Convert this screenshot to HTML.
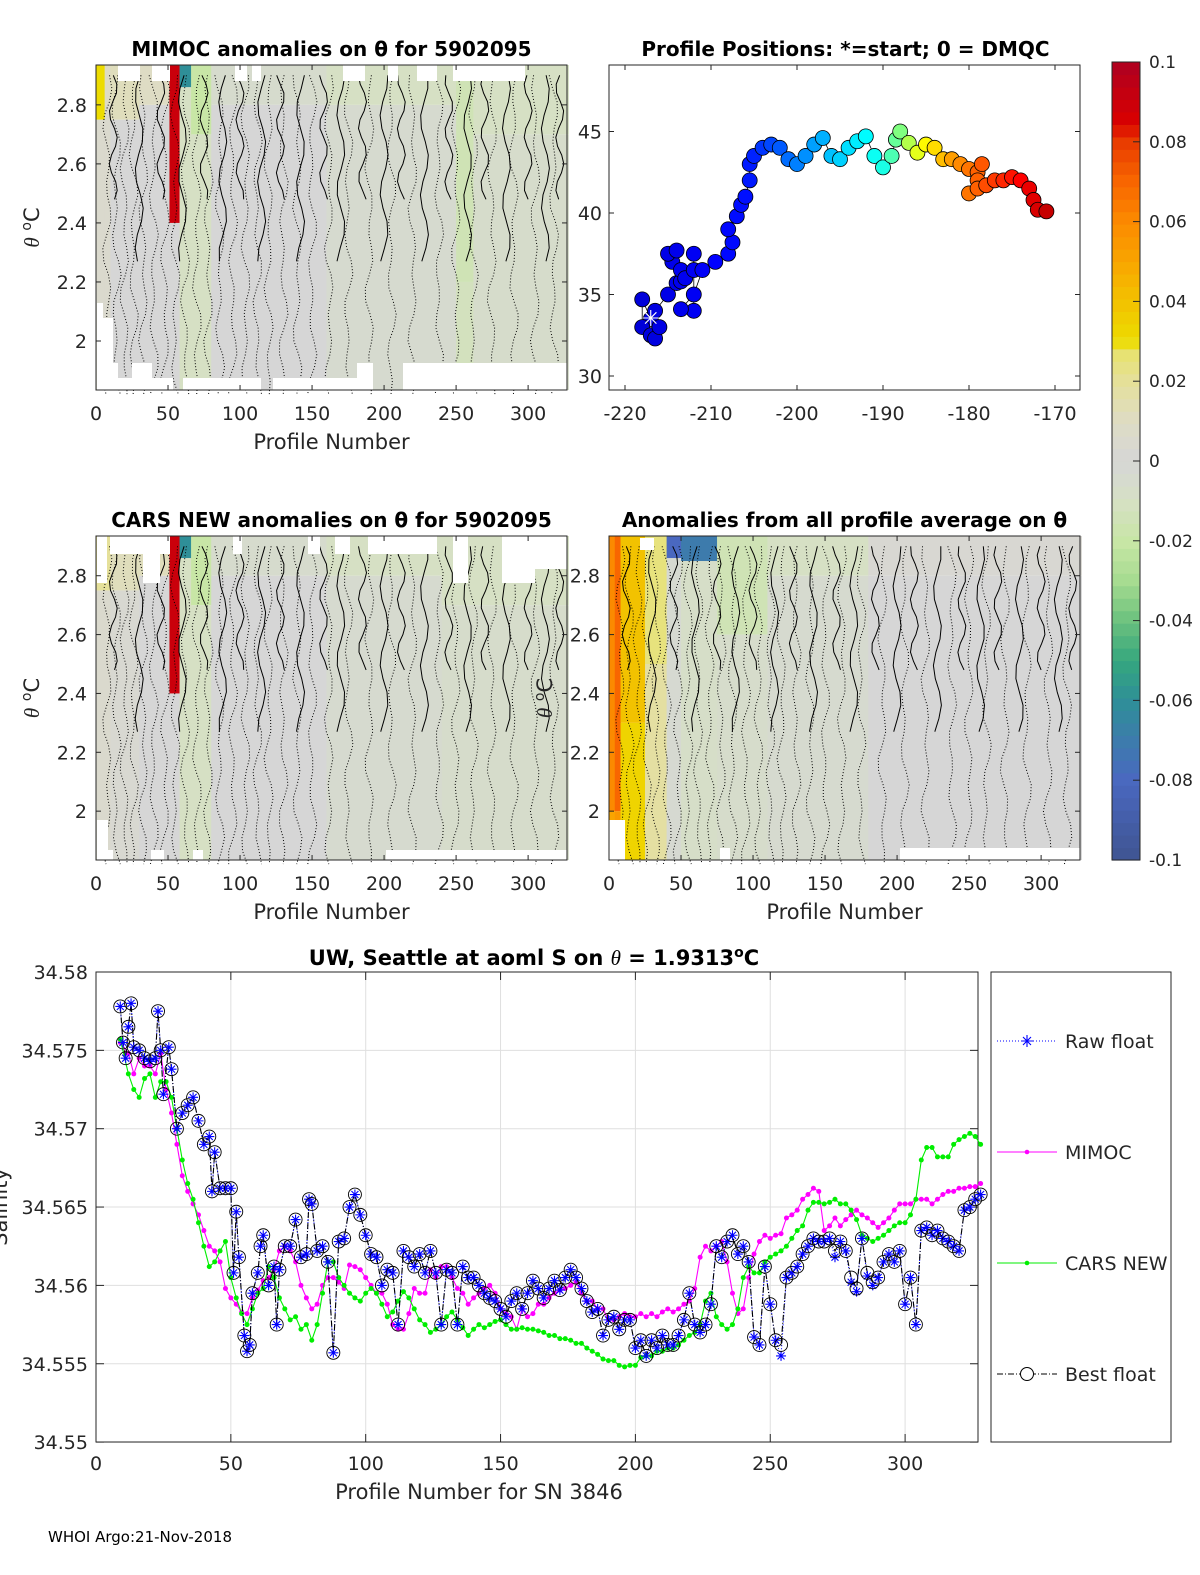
<!DOCTYPE html>
<html><head><meta charset="utf-8"><style>
html,body{margin:0;padding:0;background:#fff;}
svg{display:block;font-family:"DejaVu Sans","Liberation Sans",sans-serif;}
</style></head><body>
<svg id="fig" width="1200" height="1575" viewBox="0 0 1200 1575" xmlns="http://www.w3.org/2000/svg"></svg>
<script>
// ===== Data =====
const bestProfiles=[9,10,11,12,13,14,16,18,20,22,23,24,25,27,28,30,32,34,36,38,40,42,43,44,46,48,50,51,52,53,55,56,57,58,60,61,62,64,66,67,68,70,72,74,76,78,79,80,82,84,86,88,90,92,94,96,98,100,102,104,106,108,110,112,114,116,118,120,122,124,126,128,130,132,134,136,138,140,142,144,146,148,150,152,154,156,158,160,162,164,166,168,170,172,174,176,178,180,182,184,186,188,190,192,194,196,198,200,202,204,206,208,210,212,214,216,218,220,222,224,226,228,230,232,234,236,238,240,242,244,246,248,250,252,254,256,258,260,262,264,266,268,270,272,274,276,278,280,282,284,286,288,290,292,294,296,298,300,302,304,306,308,310,312,314,316,318,320,322,324,326,328];
const bestFloat=[34.5778,34.5755,34.5745,34.5765,34.578,34.5752,34.575,34.5745,34.5743,34.5745,34.5775,34.575,34.5722,34.5752,34.5738,34.570,34.571,34.5715,34.572,34.5705,34.569,34.5695,34.566,34.5685,34.5662,34.5662,34.5662,34.5608,34.5647,34.5618,34.5568,34.5558,34.5562,34.5595,34.5608,34.5625,34.5632,34.560,34.5612,34.5575,34.561,34.5625,34.5625,34.5642,34.5618,34.562,34.5655,34.5652,34.5622,34.5625,34.5615,34.5557,34.5628,34.563,34.565,34.5658,34.5645,34.5632,34.562,34.5618,34.560,34.561,34.5608,34.5575,34.5622,34.5618,34.5612,34.562,34.5608,34.5622,34.5608,34.5575,34.561,34.5608,34.5575,34.5612,34.5605,34.5605,34.560,34.5595,34.5592,34.559,34.5585,34.558,34.559,34.5595,34.5585,34.5595,34.5603,34.5598,34.5592,34.5598,34.5603,34.5597,34.5605,34.561,34.5605,34.5598,34.559,34.5583,34.5585,34.5568,34.5578,34.558,34.5572,34.5578,34.5578,34.556,34.5565,34.5555,34.5565,34.556,34.5568,34.5562,34.5562,34.5568,34.5578,34.5595,34.5575,34.557,34.5575,34.5588,34.5625,34.5618,34.5628,34.5632,34.562,34.5625,34.5615,34.5567,34.5562,34.5612,34.5588,34.5565,34.5562,34.5605,34.5608,34.5612,34.562,34.5625,34.563,34.5628,34.5628,34.563,34.5622,34.5628,34.5622,34.5605,34.5598,34.563,34.5608,34.5602,34.5605,34.5615,34.562,34.5615,34.5622,34.5588,34.5605,34.5575,34.5635,34.5637,34.5632,34.5635,34.563,34.5628,34.5625,34.5622,34.5648,34.565,34.5655,34.5658];
const rawFloat=[34.5778,34.5755,34.5745,34.5765,34.578,34.5752,34.575,34.5745,34.5743,34.5745,34.5775,34.575,34.5722,34.5752,34.5738,34.570,34.571,34.5715,34.572,34.5705,34.569,34.5695,34.566,34.5685,34.5662,34.5662,34.5662,34.5608,34.5647,34.5618,34.5568,34.5558,34.5562,34.5595,34.5608,34.5625,34.5632,34.560,34.5612,34.5575,34.561,34.5625,34.5625,34.5642,34.5618,34.562,34.5655,34.5652,34.5622,34.5625,34.5615,34.5557,34.5628,34.563,34.565,34.5658,34.5645,34.5632,34.562,34.5618,34.560,34.561,34.5608,34.5575,34.5622,34.5618,34.5612,34.562,34.5608,34.5622,34.5608,34.5575,34.561,34.5608,34.5575,34.5612,34.5605,34.5605,34.560,34.5595,34.5592,34.559,34.5585,34.558,34.559,34.5595,34.5585,34.5595,34.5603,34.5598,34.5592,34.5598,34.5603,34.5597,34.5605,34.561,34.5605,34.5598,34.559,34.5583,34.5585,34.5568,34.5578,34.558,34.5572,34.5578,34.5578,34.556,34.5565,34.5555,34.5565,34.556,34.5568,34.5562,34.5562,34.5568,34.5578,34.5595,34.5575,34.557,34.5575,34.5588,34.5625,34.5618,34.5628,34.5632,34.562,34.5625,34.5615,34.5567,34.5562,34.5612,34.5588,34.5565,34.5555,34.5605,34.5608,34.5612,34.562,34.5625,34.563,34.5628,34.5628,34.563,34.5618,34.5628,34.5622,34.5602,34.5596,34.563,34.5606,34.5600,34.5605,34.5615,34.562,34.5615,34.5622,34.5588,34.5605,34.5575,34.5635,34.5637,34.5632,34.5635,34.563,34.5628,34.5625,34.5622,34.5648,34.565,34.5655,34.5658];
const modelProfiles=[9,12,14,16,18,20,22,24,26,28,30,32,34,36,38,40,42,44,46,48,50,52,54,56,58,60,62,64,66,68,70,72,74,76,78,80,82,84,86,88,90,92,94,96,98,100,102,104,106,108,110,112,114,116,118,120,122,124,126,128,130,132,134,136,138,140,142,144,146,148,150,152,154,156,158,160,162,164,166,168,170,172,174,176,178,180,182,184,186,188,190,192,194,196,198,200,202,204,206,208,210,212,214,216,218,220,222,224,226,228,230,232,234,236,238,240,242,244,246,248,250,252,254,256,258,260,262,264,266,268,270,272,274,276,278,280,282,284,286,288,290,292,294,296,298,300,302,304,306,308,310,312,314,316,318,320,322,324,326,328];
const mimoc=[34.5755,34.5748,34.5735,34.5745,34.574,34.574,34.5735,34.5748,34.5725,34.571,34.569,34.567,34.566,34.5652,34.5645,34.5635,34.5625,34.5622,34.5615,34.5598,34.5592,34.5588,34.5583,34.5582,34.5592,34.5597,34.5603,34.5605,34.561,34.5622,34.5625,34.5622,34.5615,34.560,34.5592,34.5585,34.5588,34.560,34.5605,34.5605,34.5602,34.5598,34.5613,34.5612,34.561,34.5605,34.560,34.5595,34.5595,34.5588,34.5575,34.5572,34.5572,34.5582,34.5598,34.5595,34.5595,34.561,34.5605,34.5612,34.5612,34.5605,34.5598,34.5595,34.5588,34.5592,34.5595,34.5598,34.560,34.5595,34.5585,34.5582,34.558,34.5572,34.5585,34.558,34.5582,34.5588,34.5588,34.5592,34.5595,34.5597,34.5598,34.560,34.5602,34.5595,34.559,34.559,34.5585,34.5585,34.5578,34.5578,34.558,34.5582,34.558,34.558,34.5582,34.558,34.5582,34.558,34.5583,34.5585,34.5583,34.5585,34.5588,34.559,34.5598,34.5618,34.5625,34.5622,34.5625,34.5628,34.5615,34.5595,34.5582,34.5585,34.5605,34.562,34.5628,34.5632,34.563,34.5632,34.5633,34.5643,34.5645,34.5648,34.5655,34.5658,34.5662,34.566,34.5635,34.5638,34.5643,34.5638,34.5642,34.5645,34.5648,34.5645,34.5643,34.564,34.5637,34.564,34.5643,34.5648,34.5652,34.5652,34.5652,34.5655,34.5655,34.5655,34.5652,34.5655,34.5658,34.566,34.566,34.5662,34.5662,34.5663,34.5663,34.5665];
const carsNew=[34.5757,34.5735,34.5725,34.572,34.5732,34.5735,34.572,34.573,34.573,34.572,34.570,34.568,34.5665,34.5655,34.564,34.5625,34.5612,34.5615,34.5622,34.5628,34.5605,34.5592,34.5582,34.5575,34.5585,34.5595,34.5598,34.5612,34.5605,34.5592,34.5585,34.5578,34.558,34.5572,34.5575,34.5565,34.5575,34.5595,34.5615,34.5615,34.5605,34.560,34.5595,34.5592,34.559,34.5595,34.5598,34.5595,34.5588,34.558,34.5583,34.559,34.5596,34.5592,34.5585,34.5578,34.5575,34.557,34.5572,34.5575,34.558,34.5583,34.5578,34.5573,34.5568,34.5572,34.5575,34.5573,34.5575,34.5577,34.5578,34.5575,34.5572,34.5572,34.5573,34.5572,34.5572,34.5571,34.557,34.5568,34.5568,34.5566,34.5566,34.5565,34.5563,34.5563,34.556,34.5558,34.5556,34.5553,34.5552,34.5552,34.5549,34.5548,34.5549,34.5549,34.5554,34.5555,34.5555,34.5558,34.5558,34.556,34.556,34.5562,34.5565,34.5568,34.557,34.5575,34.559,34.5595,34.558,34.5575,34.5572,34.5575,34.5585,34.5605,34.5612,34.5608,34.5608,34.5615,34.5618,34.562,34.5622,34.5625,34.563,34.5635,34.5638,34.5648,34.5653,34.5653,34.5652,34.5653,34.5655,34.5652,34.5652,34.5648,34.5642,34.5632,34.563,34.5628,34.563,34.5632,34.5635,34.5638,34.564,34.564,34.5645,34.5655,34.568,34.5688,34.5688,34.5682,34.5682,34.5682,34.569,34.5693,34.5695,34.5697,34.5695,34.569];
const salTicks=[34.55,34.555,34.56,34.565,34.57,34.575,34.58];
const salTickLabels=["34.55","34.555","34.56","34.565","34.57","34.575","34.58"];
const profTicks=[0,50,100,150,200,250,300];
const thetaTicks=[2,2.2,2.4,2.6,2.8];
const thetaTickLabels=["2","2.2","2.4","2.6","2.8"];
const trackLon=[-217,-218,-218,-217,-216.5,-216,-216.5,-215,-214,-213.5,-214.5,-215,-214,-213.5,-213,-212,-212,-212,-213.5,-212,-211,-209.5,-208,-207.5,-208,-207,-206.5,-206,-205.5,-205.5,-205,-204,-203,-202,-201,-200,-199,-198,-197,-196,-195,-194,-193,-192,-191,-190,-189,-188.5,-188,-187,-186,-185,-184,-183,-182,-181,-180,-179,-178.5,-179,-180,-179,-178,-177,-176,-175,-174,-173,-172.5,-172,-171];
const trackLat=[33.5,34.7,33,32.5,32.3,33,34,35,35.7,35.8,37,37.5,37.7,36.5,36,36.5,37.5,34,34.1,35,36.5,37,37.5,38.2,39,39.8,40.5,41,42,43,43.5,44,44.2,44,43.3,43,43.5,44.2,44.6,43.5,43.3,44,44.4,44.7,43.5,42.8,43.5,44.5,45,44.3,43.7,44.2,44,43.3,43.3,43,42.7,42.5,43,42,41.2,41.5,41.7,42,42,42.2,42,41.5,40.8,40.2,40.1];
const lonTicks=[-220,-210,-200,-190,-180,-170];
const latTicks=[30,35,40,45];
const cbTicks=[-0.1,-0.08,-0.06,-0.04,-0.02,0,0.02,0.04,0.06,0.08,0.1];
const cbTickLabels=["-0.1","-0.08","-0.06","-0.04","-0.02","0","0.02","0.04","0.06","0.08","0.1"];
// heatmap segments: [startProfile, endProfile, bodyAnomaly, topAnomaly, topLowTheta]
const mimocSeg=[[0,6,0.005,0.03,2.75],[6,10,0.005,0.01,2.8],[10,30,0.0,0.012,2.75],[30,51,0.0,0.01,2.8],[51,58,0.0,0.09,2.4],[58,66,-0.01,-0.06,2.86],[66,80,-0.01,-0.02,2.7],[80,160,0.0,-0.005,2.8],[160,250,-0.004,-0.01,2.8],[250,262,-0.012,-0.015,2.2],[262,328,-0.006,-0.01,2.7]];
const carsSeg=[[0,10,0.005,0.02,2.75],[10,30,0.003,0.012,2.75],[30,51,0.0,0.012,2.8],[51,58,0.0,0.09,2.4],[58,66,-0.01,-0.06,2.86],[66,80,-0.01,-0.02,2.7],[80,160,0.0,-0.005,2.8],[160,240,-0.004,-0.01,2.8],[240,328,-0.006,-0.01,2.7]];
const avgSeg=[[0,4,0.05,0.06,2.0],[4,8,0.055,0.07,2.0],[8,25,0.033,0.04,2.3],[25,40,0.018,0.025,2.5],[40,50,-0.003,-0.08,2.86],[50,75,-0.008,-0.07,2.85],[75,110,-0.006,-0.015,2.6],[110,180,-0.004,-0.01,2.8],[180,328,0.0,0.002,2.8]];
const contourProfilesA=[8,14,20,26,33,40,48,55,62,70,78,86,95,104,112,120,130,140,150,162,175,190,205,220,238,250,262,275,290,305,318];
const contourProfilesB=[12,30,45,60,75,88,100,115,128,142,158,170,185,200,212,228,245,258,270,285,300,312,322];

// ===== helpers =====
const S='http://www.w3.org/2000/svg';
const svg=document.getElementById('fig');
function el(tag,attrs,parent){const e=document.createElementNS(S,tag);for(const k in attrs)e.setAttribute(k,attrs[k]);(parent||svg).appendChild(e);return e;}
function txt(str,x,y,size,anchor,parent,weight){const t=el('text',{x:x,y:y,'font-size':size,'text-anchor':anchor||'middle',fill:'#262626'},parent);if(weight){t.setAttribute('font-weight',weight);t.setAttribute('fill','#000');}t.textContent=str;return t;}
const cmapV=[-0.1,-0.08,-0.06,-0.05,-0.04,-0.03,-0.02,-0.01,0,0.01,0.02,0.028,0.03,0.04,0.05,0.06,0.07,0.08,0.085,0.1];
const cmapC=['#3f5591','#4a68c0','#2f8f98','#35a77e','#6cc17e','#a6dc90','#c8e6a6','#d6e0c4','#d6d6d6','#dedcc4','#e5e09a','#e8e36b','#eddc00','#f2c200','#f9a500','#fb8a00','#f86600','#e83c00','#d90000','#ad0021'];
function hex(c){return [parseInt(c.substr(1,2),16),parseInt(c.substr(3,2),16),parseInt(c.substr(5,2),16)];}
function cmap(v){v=Math.max(-0.1,Math.min(0.1,v));for(let i=0;i<cmapV.length-1;i++){if(v<=cmapV[i+1]){const f=(v-cmapV[i])/(cmapV[i+1]-cmapV[i]);const a=hex(cmapC[i]),b=hex(cmapC[i+1]);return 'rgb('+a.map((x,j)=>Math.round(x+(b[j]-x)*f)).join(',')+')';}}return cmapC[cmapC.length-1];}
function jet(f){const r=Math.max(0,Math.min(1,1.5-Math.abs(4*f-3))),g=Math.max(0,Math.min(1,1.5-Math.abs(4*f-2))),b=Math.max(0,Math.min(1,1.5-Math.abs(4*f-1)));return 'rgb('+Math.round(r*255)+','+Math.round(g*255)+','+Math.round(b*255)+')';}
function white(x,y,w,h){const r=el('rect',{x:x,y:y,width:w,height:h,fill:'#fff'});}

// ===== heatmap panel =====
function heatPanel(name,x0,y0,w,h,segs,title,ylabel){
  const g=el('g',{},svg);
  
  
  const xs=p=>x0+p*w/327, ys=t=>y0+(2.935-t)*h/1.101;
  segs.forEach(s=>{
    const r=el('rect',{x:xs(s[0]),y:ys(s[4]),width:xs(s[1])-xs(s[0])+0.5,height:ys(1.834)-ys(s[4]),fill:cmap(s[2])},g);
    
    
    const t=el('rect',{x:xs(s[0]),y:y0,width:xs(s[1])-xs(s[0])+0.5,height:ys(s[4])-y0,fill:cmap(s[3])},g);
    
    
  });
  contourProfilesA.forEach((p,i)=>{
    let d='';for(let k=0;k<=24;k++){const th=2.9-k*0.045;const px=xs(p)+3*Math.sin(k*1.3+i)+2*Math.cos(k*0.7+i*2);d+=(k?'L':'M')+px.toFixed(1)+','+ys(th).toFixed(1);}
    const c=el('path',{d:d,fill:'none',stroke:'#000','stroke-width':1,'stroke-dasharray':'1,2'},g);
    
    
  });
  contourProfilesB.forEach((p,i)=>{
    let d='';for(let k=0;k<=14;k++){const th=2.9-k*(i%2?0.045:0.03);const px=xs(p)+4*Math.sin(k*1.1+i*3);d+=(k?'L':'M')+px.toFixed(1)+','+ys(th).toFixed(1);}
    const c=el('path',{d:d,fill:'none',stroke:'#000','stroke-width':1},g);
    
    
  });
  thetaTicks.forEach((t,i)=>{const l=txt(thetaTickLabels[i],x0-9,ys(t)+7,19,'end',g);});
  profTicks.forEach(p=>{const l=txt(String(p),xs(p),y0+h+30,19,'middle',g);});
  const tt=txt(title,x0+w/2,y0-9,20,'middle',g,'bold');
  const xl=txt('Profile Number',x0+w/2,y0+h+59,21,'middle',g);
  if(ylabel){const yl=el('text',{x:0,y:0,'font-size':21,'text-anchor':'middle',fill:'#262626',transform:'translate('+(x0-57)+','+(y0+h/2)+') rotate(-90)'},g);yl.innerHTML='<tspan font-style="italic" font-family="Liberation Serif,serif">θ</tspan> <tspan baseline-shift="super" font-size="14">o</tspan>C';}
  return {xs,ys,g,x0,y0,w,h};
}
function frame(P){
  const g=el('g',{});
  el('rect',{x:P.x0,y:P.y0,width:P.w,height:P.h,fill:'none',stroke:'#262626','stroke-width':1},g);
  thetaTicks.forEach(t=>{el('line',{x1:P.x0,y1:P.ys(t),x2:P.x0+5,y2:P.ys(t),stroke:'#262626'},g);el('line',{x1:P.x0+P.w,y1:P.ys(t),x2:P.x0+P.w-5,y2:P.ys(t),stroke:'#262626'},g);});
  profTicks.forEach(p=>{el('line',{x1:P.xs(p),y1:P.y0+P.h,x2:P.xs(p),y2:P.y0+P.h-5,stroke:'#262626'},g);el('line',{x1:P.xs(p),y1:P.y0,x2:P.xs(p),y2:P.y0+5,stroke:'#262626'},g);});
}
const p1=heatPanel('mimoc-anomaly-panel',96,65,471,325,mimocSeg,'MIMOC anomalies on θ  for 5902095',true);
[[118,65,22,16],[152,65,18,16],[235,65,12,16],[252,65,9,16],[343,65,22,16],[388,65,10,16],[417,65,20,16],[453,65,72,16]].forEach(r=>white(...r));
[[97,303,6,87],[97,318,16,72],[97,363,21,27],[132,363,20,27],[97,378,76,12],[183,378,78,12],[273,378,84,12],[357,363,16,27],[403,363,164,27]].forEach(r=>white(...r));
frame(p1);
const p3=heatPanel('cars-anomaly-panel',96,536,471,324,carsSeg,'CARS NEW anomalies on θ for 5902095',true);
[[97,536,10,47],[110,536,50,18],[143,536,17,47],[160,536,10,18],[233,536,9,18],[308,536,12,18],[335,536,15,18],[368,536,69,18],[453,536,15,47],[502,536,33,47],[535,536,32,33]].forEach(r=>white(...r));
[[97,820,11,40],[97,850,16,10],[151,850,13,10],[193,850,10,10],[386,850,181,10]].forEach(r=>white(...r));
frame(p3);
const p4=heatPanel('all-average-anomaly-panel',609,536,471,324,avgSeg,'Anomalies from all profile average on θ',true);
[[609,820,16,40],[900,848,180,12],[720,848,10,12],[640,538,14,12]].forEach(r=>white(...r));
frame(p4);

// ===== positions panel =====
(function(){
  const g=el('g',{});
  
  
  const X0=609,Y0=65,W=471,H=325;
  const xs=lon=>625+(lon+220)*8.6, ys=lat=>213-(lat-40)*16.3;
  el('rect',{x:X0,y:Y0,width:W,height:H,fill:'#fff',stroke:'#262626'},g);
  lonTicks.forEach(t=>{el('line',{x1:xs(t),y1:Y0+H,x2:xs(t),y2:Y0+H-5,stroke:'#262626'},g);el('line',{x1:xs(t),y1:Y0,x2:xs(t),y2:Y0+5,stroke:'#262626'},g);const l=txt(String(t),xs(t),Y0+H+30,19,'middle',g);});
  latTicks.forEach(t=>{el('line',{x1:X0,y1:ys(t),x2:X0+5,y2:ys(t),stroke:'#262626'},g);el('line',{x1:X0+W,y1:ys(t),x2:X0+W-5,y2:ys(t),stroke:'#262626'},g);const l=txt(String(t),X0-7,ys(t)+7,19,'end',g);});
  let d='';trackLon.forEach((lo,i)=>{d+=(i?'L':'M')+xs(lo).toFixed(1)+','+ys(trackLat[i]).toFixed(1);});
  const tr=el('path',{d:d,fill:'none',stroke:'#000','stroke-width':0.8},g);
  
  
  function colorFor(lon){
    const stops=[[-220,0.08],[-206,0.14],[-200,0.25],[-195,0.33],[-190,0.4],[-186,0.6],[-182,0.72],[-178,0.8],[-170,0.95]];
    for(let k=0;k<stops.length-1;k++){if(lon<=stops[k+1][0]){const f=(lon-stops[k][0])/(stops[k+1][0]-stops[k][0]);return jet(stops[k][1]+(stops[k+1][1]-stops[k][1])*f);}}
    return jet(0.95);
  }
  trackLon.forEach((lo,i)=>{
    const c=el('circle',{cx:xs(lo),cy:ys(trackLat[i]),r:7.5,fill:colorFor(lo),stroke:'#000','stroke-width':0.8},g);
    
    
  });
  const st=el('text',{x:xs(trackLon[0]),y:ys(trackLat[0])+7,'font-size':22,'text-anchor':'middle',fill:'#fff'},g);
  st.textContent='✳';
  
  
  const tt=txt('Profile Positions: *=start; 0 = DMQC',X0+W/2+1,Y0-9,20,'middle',g,'bold');
  
  
})();

// ===== colorbar =====
(function(){
  const g=el('g',{});
  
  
  const X=1112,Y0=62,H=798,W=28;
  const ys=v=>Y0+(0.1-v)*H/0.2;
  for(let k=0;k<64;k++){const v=-0.1+(k+0.5)*0.2/64;el('rect',{x:X,y:ys(-0.1+(k+1)*0.2/64),width:W,height:H/64+0.6,fill:cmap(v)},g);}
  el('rect',{x:X,y:Y0,width:W,height:H,fill:'none',stroke:'#262626'},g);
  cbTicks.forEach((t,i)=>{el('line',{x1:X+W,y1:ys(t),x2:X+W-7,y2:ys(t),stroke:'#262626'},g);const l=txt(cbTickLabels[i],X+W+9,ys(t)+6,17,'start',g);});
})();

// ===== bottom salinity chart =====
(function(){
  const g=el('g',{});
  
  
  const X0=96,Y0=972,W=882,H=470;
  const xs=p=>X0+p*2.697, ys=v=>Y0+(34.58-v)*15670;
  el('rect',{x:X0,y:Y0,width:W,height:H,fill:'#fff'},g);
  profTicks.forEach(p=>{if(p>0)el('line',{x1:xs(p),y1:Y0,x2:xs(p),y2:Y0+H,stroke:'#dfdfdf'},g);});
  salTicks.forEach(v=>{el('line',{x1:X0,y1:ys(v),x2:X0+W,y2:ys(v),stroke:'#dfdfdf'},g);});
  el('rect',{x:X0,y:Y0,width:W,height:H,fill:'none',stroke:'#262626'},g);
  profTicks.forEach(p=>{el('line',{x1:xs(p),y1:Y0+H,x2:xs(p),y2:Y0+H-8,stroke:'#262626'},g);el('line',{x1:xs(p),y1:Y0,x2:xs(p),y2:Y0+8,stroke:'#262626'},g);
    const l=txt(String(p),xs(p),Y0+H+28,19,'middle',g);});
  salTicks.forEach((v,i)=>{el('line',{x1:X0,y1:ys(v),x2:X0+8,y2:ys(v),stroke:'#262626'},g);el('line',{x1:X0+W,y1:ys(v),x2:X0+W-8,y2:ys(v),stroke:'#262626'},g);
    const l=txt(salTickLabels[i],X0-8,ys(v)+7,19,'end',g);});
  function line(ps,vs,color,dash,name){let d='';ps.forEach((p,i)=>{d+=(i?'L':'M')+xs(p).toFixed(1)+','+ys(vs[i]).toFixed(1);});const e=el('path',{d:d,fill:'none',stroke:color,'stroke-width':1.1},g);if(dash)e.setAttribute('stroke-dasharray',dash);return e;}
  line(modelProfiles,mimoc,'#ff00ff',null,'mimoc-line');
  modelProfiles.forEach((p,i)=>{const c=el('circle',{cx:xs(p),cy:ys(mimoc[i]),r:2.5,fill:'#ff00ff'},g);});
  line(modelProfiles,carsNew,'#00ee00',null,'cars-new-line');
  modelProfiles.forEach((p,i)=>{const c=el('circle',{cx:xs(p),cy:ys(carsNew[i]),r:2.5,fill:'#00ee00'},g);});
  line(bestProfiles,rawFloat,'#0000ff','1,2','raw-float-line');
  line(bestProfiles,bestFloat,'#000','6,2,1,2','best-float-line');
  bestProfiles.forEach((p,i)=>{
    const x=xs(p),y=ys(rawFloat[i]);
    const a=el('path',{d:`M${x-5},${y}H${x+5}M${x},${y-5}V${y+5}M${x-3.5},${y-3.5}L${x+3.5},${y+3.5}M${x-3.5},${y+3.5}L${x+3.5},${y-3.5}`,stroke:'#0000ff','stroke-width':1.1,fill:'none'},g);
    
    
    const c=el('circle',{cx:x,cy:ys(bestFloat[i]),r:6.5,fill:'none',stroke:'#000','stroke-width':0.9},g);
    
    
  });
  const tt=el('text',{x:X0+W/2-3,y:Y0-7,'font-size':21,'text-anchor':'middle','font-weight':'bold',fill:'#000'},g);
  tt.innerHTML='UW, Seattle at aoml S on <tspan font-style="italic" font-weight="normal" font-family="Liberation Serif,serif">θ</tspan> = 1.9313<tspan baseline-shift="super" font-size="14">o</tspan>C';
  
  
  const xl=txt('Profile Number for SN 3846',X0+W/2-58,Y0+H+57,21,'middle',g);
  
  
  const yl=el('text',{x:0,y:0,'font-size':21,'text-anchor':'middle',fill:'#262626',transform:'translate(7,'+(Y0+H/2)+') rotate(-90)'},g);
  yl.textContent='Salinity';
  
  
  const lg=el('g',{},g);
  
  
  el('rect',{x:991,y:972,width:180,height:470,fill:'#fff',stroke:'#262626'},lg);
  const entries=[['Raw float',1041,'raw'],['MIMOC',1152,'mimoc'],['CARS NEW',1263,'cars'],['Best float',1374,'best']];
  entries.forEach(e=>{
    const eg=el('g',{},lg);
    
    
    const y=e[1],cx=1027;
    if(e[2]==='raw'){el('line',{x1:997,y1:y,x2:1057,y2:y,stroke:'#0000ff','stroke-dasharray':'1,2'},eg);el('path',{d:`M${cx-6},${y}H${cx+6}M${cx},${y-6}V${y+6}M${cx-4},${y-4}L${cx+4},${y+4}M${cx-4},${y+4}L${cx+4},${y-4}`,stroke:'#0000ff','stroke-width':1.1},eg);}
    if(e[2]==='mimoc'){el('line',{x1:997,y1:y,x2:1057,y2:y,stroke:'#ff00ff'},eg);el('circle',{cx:cx,cy:y,r:2.3,fill:'#ff00ff'},eg);}
    if(e[2]==='cars'){el('line',{x1:997,y1:y,x2:1057,y2:y,stroke:'#00ee00'},eg);el('circle',{cx:cx,cy:y,r:2.3,fill:'#00ee00'},eg);}
    if(e[2]==='best'){el('line',{x1:997,y1:y,x2:1057,y2:y,stroke:'#000','stroke-dasharray':'6,2,1,2'},eg);el('circle',{cx:cx,cy:y,r:6.5,fill:'#fff',stroke:'#000'},eg);}
    txt(e[0],1065,y+7,19,'start',eg);
  });
})();
const foot=txt('WHOI Argo:21-Nov-2018',48,1542,15,'start');
foot.setAttribute('fill','#000');


</script>
</body></html>
